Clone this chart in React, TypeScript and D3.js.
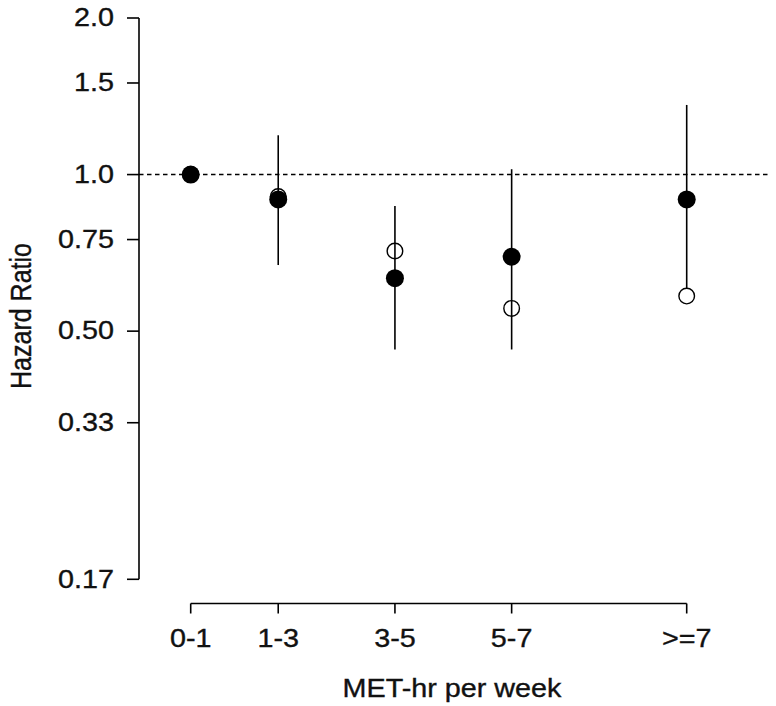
import React from "react";
import * as d3 from "d3";

const categories = ["0-1", "1-3", "3-5", "5-7", ">=7"];
const xValues = [0.5, 2, 4, 6, 9];
const filledHR = [1.0, 0.896, 0.632, 0.695, 0.896];
const openHR = [1.0, 0.907, 0.713, 0.553, 0.584];
const ciLow: (number | null)[] = [null, 0.67, 0.461, 0.461, 0.603];
const ciHigh: (number | null)[] = [null, 1.19, 0.87, 1.024, 1.361];
const yTickValues = [2, 1.5, 1, 0.75, 0.5, 1 / 3, 1 / 6];
const yTickLabels = ["2.0", "1.5", "1.0", "0.75", "0.50", "0.33", "0.17"];

const W = 776;
const H = 706;
const FONT = "Arial, 'Liberation Sans', Helvetica, sans-serif";
const FS = 25;
const SX = 1.15;

export default function App() {
  const x = d3.scaleLinear().domain([0.5, 9]).range([190.7, 686.7]);
  const y = d3.scaleLog().domain([1 / 6, 2]).range([579.3, 18]);
  const axisX = 139;
  const axisY = 603.5;
  const lw = 1.6;
  const textProps = {
    fontFamily: FONT,
    fontSize: FS,
    fill: "#111",
    stroke: "#111",
    strokeWidth: 0.35,
  };

  return (
    <svg
      width={W}
      height={H}
      style={{ position: "absolute", left: 0, top: 0, background: "#fff" }}
    >
      <rect x={0} y={0} width={W} height={H} fill="#fff" />
      {/* reference line at HR = 1 */}
      <line
        x1={axisX}
        x2={768}
        y1={y(1)}
        y2={y(1)}
        stroke="#000"
        strokeWidth={1.4}
        strokeDasharray="4.5,3.5"
      />
      {/* y axis */}
      <line x1={axisX} x2={axisX} y1={y(2)} y2={y(1 / 6)} stroke="#000" strokeWidth={lw} />
      {yTickValues.map((v, i) => (
        <g key={"yt" + i}>
          <line x1={axisX - 12} x2={axisX} y1={y(v)} y2={y(v)} stroke="#000" strokeWidth={lw} />
          <g transform={`translate(114,${y(v)}) scale(${SX},1)`}>
            <text x={0} y={0} textAnchor="end" dominantBaseline="central" {...textProps}>
              {yTickLabels[i]}
            </text>
          </g>
        </g>
      ))}
      {/* x axis */}
      <line
        x1={x(xValues[0])}
        x2={x(xValues[xValues.length - 1])}
        y1={axisY}
        y2={axisY}
        stroke="#000"
        strokeWidth={lw}
      />
      {xValues.map((v, i) => (
        <g key={"xt" + i}>
          <line x1={x(v)} x2={x(v)} y1={axisY} y2={axisY + 10} stroke="#000" strokeWidth={lw} />
          <g transform={`translate(${x(v)},647) scale(${SX},1)`}>
            <text x={0} y={0} textAnchor="middle" {...textProps}>
              {categories[i]}
            </text>
          </g>
        </g>
      ))}
      {/* axis titles */}
      <g transform={`translate(452,697) scale(${SX},1)`}>
        <text x={0} y={0} textAnchor="middle" {...textProps}>
          MET-hr per week
        </text>
      </g>
      <g transform={`translate(31,316) scale(${SX},1) rotate(-90)`}>
        <text x={0} y={0} textAnchor="middle" {...textProps}>
          Hazard Ratio
        </text>
      </g>
      {/* confidence intervals */}
      {xValues.map((v, i) =>
        ciLow[i] != null && ciHigh[i] != null ? (
          <line
            key={"ci" + i}
            x1={x(v)}
            x2={x(v)}
            y1={y(ciLow[i] as number)}
            y2={y(ciHigh[i] as number)}
            stroke="#000"
            strokeWidth={1.6}
          />
        ) : null
      )}
      {/* open points */}
      {xValues.map((v, i) => (
        <circle
          key={"o" + i}
          cx={x(v)}
          cy={y(openHR[i])}
          r={7.8}
          fill="none"
          stroke="#000"
          strokeWidth={1.4}
        />
      ))}
      {/* filled points */}
      {xValues.map((v, i) => (
        <circle key={"f" + i} cx={x(v)} cy={y(filledHR[i])} r={9} fill="#000" />
      ))}
    </svg>
  );
}
